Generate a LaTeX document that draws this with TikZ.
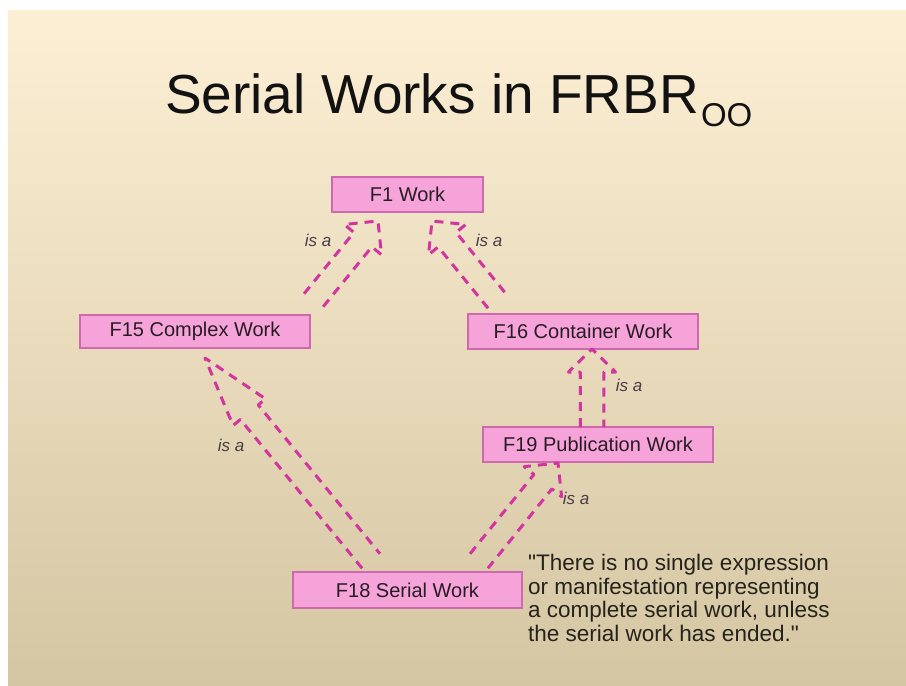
\documentclass[tikz,border=0pt]{standalone}
\usepackage{fontspec}
\setmainfont{Liberation Sans}[Ligatures=TeXOff]
\usetikzlibrary{calc}
\definecolor{bgtop}{RGB}{253,239,212}
\definecolor{bgmid}{RGB}{240,228,198}
\definecolor{bgbot}{RGB}{212,198,162}
\definecolor{boxfill}{RGB}{246,163,218}
\definecolor{boxline}{RGB}{205,105,175}
\definecolor{isacol}{RGB}{210,52,160}
\definecolor{txt}{RGB}{40,28,36}
\definecolor{quotecol}{RGB}{38,34,28}
\newcommand{\isaarrow}[5]{%
  \coordinate (nk) at ($(#2)!#5!(#1)$);
  \draw[isaline] ($(#1)!#3!90:(#2)$) -- ($(nk)!#3!90:(#2)$) -- ($(nk)!#4!90:(#2)$) -- (#2)
    -- ($(nk)!#4!-90:(#2)$) -- ($(nk)!#3!-90:(#2)$) -- ($(#1)!#3!-90:(#2)$);}
\tikzset{
  workbox/.style={draw=boxline, line width=1.2pt, fill=boxfill, minimum height=35pt,
    inner sep=0pt, font=\fontsize{20}{24}\selectfont, text=txt},
  isalbl/.style={font=\itshape\fontsize{17}{19}\selectfont, text=txt!85, inner sep=0pt},
  isaline/.style={draw=isacol, line width=3pt, dash pattern=on 9pt off 7pt, line join=round}
}
\begin{document}
\begin{tikzpicture}[x=1pt,y=-1pt]
\useasboundingbox (0,0) rectangle (906,686);
\fill[white] (0,0) rectangle (906,686);
\shade[top color=bgtop, middle color=bgmid, bottom color=bgbot] (8,10) rectangle (906,686);

% title
\node[anchor=base west, inner sep=0pt, text=black!93, font=\fontsize{55}{60}\selectfont] (title) at (165,113.3)
  {Serial Works in FRBR\kern2pt\raisebox{-13pt}{\fontsize{33}{35}\selectfont OO}};

% boxes
\node[workbox, minimum width=151pt] (f1) at (407.5,194.5) {F1 Work};
\node[workbox, minimum width=230pt, minimum height=33pt] (f15) at (195,331.5) {F15 Complex Work};
\node[workbox, minimum width=230pt] (f16) at (583,331.5) {F16 Container Work};
\node[workbox, minimum width=230pt] (f19) at (598,444.5) {F19 Publication Work};
\node[workbox, minimum width=229pt, minimum height=36pt] (f18) at (407.5,590) {F18 Serial Work};

% arrow end points
\coordinate (a1tail) at (313,301);  \coordinate (a1tip) at (378,221);
\coordinate (a2tail) at (497,301);  \coordinate (a2tip) at (432,221);
\coordinate (a3tail) at (371,561);  \coordinate (a3tip) at (205,358);
\coordinate (a4tail) at (479,561);  \coordinate (a4tip) at (558,463);
\coordinate (a5tail) at (592,427);  \coordinate (a5tip) at (592,349);

\isaarrow{a1tail}{a1tip}{11.5pt}{24pt}{24pt}
\isaarrow{a2tail}{a2tip}{11.5pt}{24pt}{24pt}
\isaarrow{a3tail}{a3tip}{11.5pt}{21pt}{70pt}
\isaarrow{a4tail}{a4tip}{11.5pt}{24pt}{24pt}
\isaarrow{a5tail}{a5tip}{11.75pt}{23.5pt}{23pt}

% labels
\node[isalbl] (l1) at (318,240) {is a};
\node[isalbl] (l2) at (489,240) {is a};
\node[isalbl] (l3) at (231,445) {is a};
\node[isalbl] (l5) at (629,385) {is a};
\node[isalbl] (l4) at (576,498) {is a};

% quote
\node[anchor=base west, inner sep=0pt, align=left, text=quotecol,
  font=\fontsize{22.5}{23.5}\selectfont] (quote) at (528,641)
  {"There is no single expression\\or manifestation representing\\a complete serial work, unless\\the serial work has ended."};
\end{tikzpicture}
\end{document}
